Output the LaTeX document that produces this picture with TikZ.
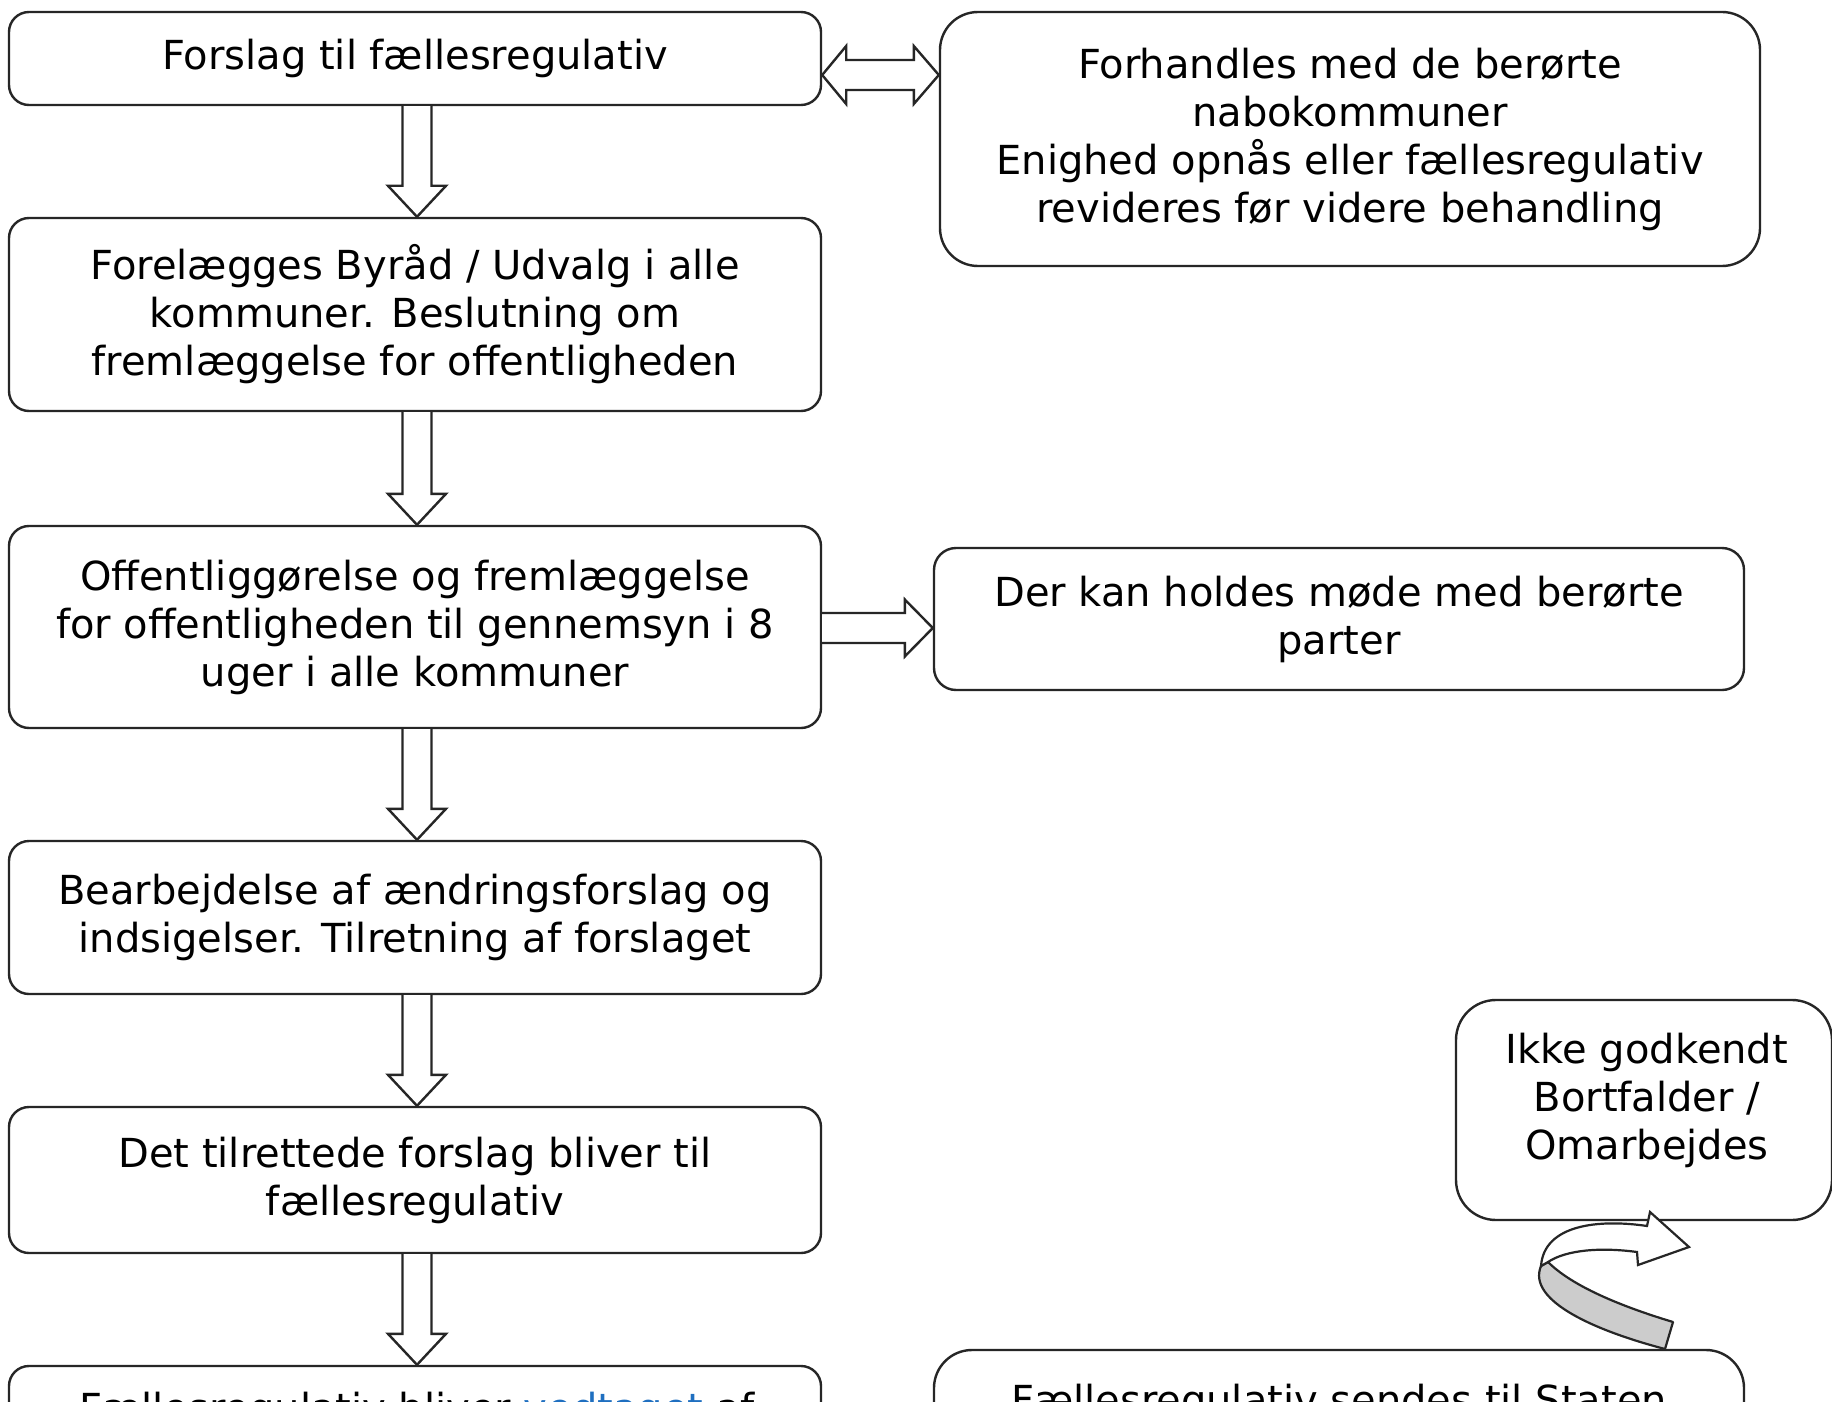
\documentclass[tikz,border=0pt]{standalone}
\usepackage{fontspec}
\setmainfont{DejaVu Sans}
\usetikzlibrary{calc}
\definecolor{lin}{HTML}{262626}
\definecolor{vblue}{HTML}{1F6FC0}
\definecolor{band}{HTML}{CCCCCC}
\tikzset{
  box/.style={draw=lin, line width=2.4pt, rounded corners=20pt, fill=white, align=center, inner sep=0pt,
    font=\fontsize{40}{48}\selectfont, text=black},
  txt/.style={align=center, inner sep=0pt, font=\fontsize{40}{48}\selectfont, text=black},
  blk/.style={draw=lin, line width=2.4pt, fill=white, line join=miter},
}
\newcommand\vblock[2]{%
  \draw[blk] ($(#1.south)+(-12.5,0)$) -- ($(#2.north)+(-12.5,-31)$) -- ($(#2.north)+(-27,-31)$) -- ($(#2.north)+(2,0)$)
    -- ($(#2.north)+(31,-31)$) -- ($(#2.north)+(16.5,-31)$) -- ($(#1.south)+(16.5,0)$);}
\begin{document}
\begin{tikzpicture}[x=1pt,y=-1pt]
\useasboundingbox (0,0) rectangle (1832,1402);
\clip (0,0) rectangle (1832,1402);
\fill[white] (0,0) rectangle (1832,1402);

% left column
\node[box, minimum width=812, minimum height=93] (b1) at (415,58.5) {Forslag til fællesregulativ};
\node[box, minimum width=812, minimum height=193] (b2) at (415,314.5) {Forelægges Byråd / Udvalg i alle\\kommuner. Beslutning om\\fremlæggelse for offentligheden};
\node[box, minimum width=812, minimum height=202] (b3) at (415,627) {Offentliggørelse og fremlæggelse\\for offentligheden til gennemsyn i 8\\uger i alle kommuner};
\node[box, minimum width=812, minimum height=153] (b4) at (415,917.5) {Bearbejdelse af ændringsforslag og\\indsigelser. Tilretning af forslaget};
\node[box, minimum width=812, minimum height=146] (b5) at (415,1180) {Det tilrettede forslag bliver til\\fællesregulativ};
\node[box, minimum width=812, minimum height=170] (b6) at (415,1451) {};
\node[txt, anchor=base] (t6) at (417,1422) {Fællesregulativ bliver \textcolor{vblue}{vedtaget} af};

% right column
\node[box, rounded corners=38pt, minimum width=820, minimum height=254] (forh) at (1350,139) {Forhandles med de berørte\\nabokommuner\\Enighed opnås eller fællesregulativ\\revideres før videre behandling};
\node[box, rounded corners=22pt, minimum width=810, minimum height=142] (derkan) at (1339,619) {Der kan holdes møde med berørte\\parter};
\node[box, rounded corners=40pt, minimum width=376, minimum height=220] (ikke) at (1644,1110) {};
\node[txt] (tikke) at (1647,1100) {Ikke godkendt\\Bortfalder /\\Omarbejdes};
\node[box, rounded corners=38pt, minimum width=810, minimum height=150] (stat) at (1339,1425) {};
\node[txt, anchor=base] (tstat) at (1339,1414) {Fællesregulativ sendes til Staten};

% vertical block arrows
\vblock{b1}{b2}
\vblock{b2}{b3}
\vblock{b3}{b4}
\vblock{b4}{b5}
\vblock{b5}{b6}

% double arrow b1 <-> forh
\coordinate (dl) at ($(b1.east)+(0,16.5)$);
\coordinate (dr) at (dl -| forh.west);
\draw[blk] (dl) -- ($(dl)+(24,-29)$) -- ($(dl)+(24,-15)$) -- ($(dr)+(-25,-15)$) -- ($(dr)+(-25,-29)$) -- (dr)
  -- ($(dr)+(-25,29)$) -- ($(dr)+(-25,15)$) -- ($(dl)+(24,15)$) -- ($(dl)+(24,29)$) -- cycle;

% arrow b3 -> derkan
\coordinate (hl) at ($(b3.east)+(0,1)$);
\coordinate (hr) at (hl -| derkan.west);
\draw[blk] (hl) ++(0,-15) -- ($(hr)+(-28,-15)$) -- ($(hr)+(-28,-28.5)$) -- (hr) -- ($(hr)+(-28,28.5)$)
  -- ($(hr)+(-28,15)$) -- ($(hl)+(0,15)$);

% curved arrow from stat to ikke
\draw[draw=lin, line width=2.2pt, fill=band, line join=round]
  (1665,1349) .. controls (1600,1332) and (1526,1302) .. (1541,1266)
  -- (1548,1262) .. controls (1572,1286) and (1620,1306) .. (1673,1322) -- cycle;
\draw[draw=lin, line width=2.2pt, fill=white, line join=miter]
  (1541,1266) .. controls (1544,1224) and (1600,1219) .. (1647,1226)
  -- (1650,1212) -- (1689,1247) -- (1638,1265) -- (1637,1252)
  .. controls (1600,1247) and (1566,1250) .. (1548,1262) -- cycle;
\end{tikzpicture}
\end{document}
